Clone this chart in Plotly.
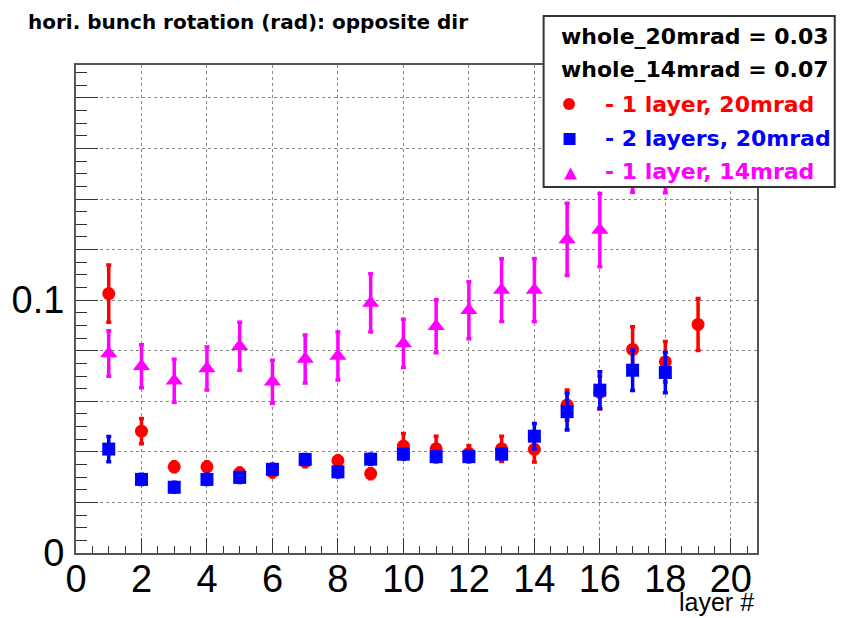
import plotly.graph_objects as go

# ---------------- data ----------------
x_red = list(range(1, 20))
y_red = [0.1026, 0.0482, 0.0341, 0.0341, 0.0316, 0.0321, 0.0361, 0.0365, 0.0314, 0.0423,
         0.0412, 0.0394, 0.0412, 0.0410, 0.0585, 0.0635, 0.0805, 0.0756, 0.0904]
e_red = [0.0113, 0.0050, 0.0020, 0.0020, 0.0020, 0.0020, 0.0020, 0.0020, 0.0020, 0.0050,
         0.0050, 0.0030, 0.0050, 0.0050, 0.0060, 0.0065, 0.0090, 0.0080, 0.0103]

x_blue = list(range(1, 19))
y_blue = [0.0411, 0.0291, 0.0260, 0.0291, 0.0299, 0.0331, 0.0370, 0.0321, 0.0371, 0.0391,
          0.0381, 0.0381, 0.0391, 0.0462, 0.0559, 0.0644, 0.0723, 0.0714]
e_blue = [0.0050, 0.0020, 0.0020, 0.0020, 0.0020, 0.0020, 0.0020, 0.0020, 0.0020, 0.0020,
          0.0020, 0.0020, 0.0020, 0.0050, 0.0073, 0.0073, 0.0080, 0.0080]

x_mag = list(range(1, 19))
y_mag = [0.0789, 0.0739, 0.0681, 0.0730, 0.0818, 0.0677, 0.0767, 0.0779, 0.0989, 0.0829,
         0.0897, 0.0960, 0.1040, 0.1040, 0.1240, 0.1277, 0.1600, 0.1595]
e_mag = [0.0090, 0.0085, 0.0085, 0.0085, 0.0095, 0.0085, 0.0095, 0.0095, 0.0115, 0.0095,
         0.0105, 0.0113, 0.0124, 0.0124, 0.0143, 0.0145, 0.0173, 0.0170]

title_text = "hori. bunch rotation (rad): opposite dir"
legend_lines = ["whole_20mrad = 0.03", "whole_14mrad = 0.07",
                "- 1 layer, 20mrad", "- 2 layers, 20mrad", "- 1 layer, 14mrad"]
x_title = "layer #"
x_ticks = list(range(0, 21, 2))
y_ticks = [0.0, 0.02, 0.04, 0.06, 0.08, 0.10, 0.12, 0.14, 0.16, 0.18]
y_ticktext = ["0", "", "", "", "", "0.1", "", "", "", ""]

RED, BLUE, MAG = "#ff0000", "#0000ff", "#ff00ff"

# ---------------- layout geometry ----------------
W, H = 846, 618
L, R, T, B = 74, 89, 65, 65
PW, PH = W - L - R, H - T - B


def px(xp):
    return (xp - L) / PW


def py(yp):
    return (H - B - yp) / PH


fig = go.Figure()


def add_series(xs, ys, es, color, symbol, size):
    fig.add_trace(go.Scatter(
        x=xs, y=ys, mode="markers",
        marker=dict(color=color, symbol=symbol, size=size, line=dict(width=0)),
        error_y=dict(type="data", array=es, visible=True, color=color,
                     thickness=3.5, width=2.5),
        showlegend=False, cliponaxis=True))


add_series(x_red, y_red, e_red, RED, "circle", 13)
add_series(x_blue, y_blue, e_blue, BLUE, "square", 13)
add_series(x_mag, y_mag, e_mag, MAG, "triangle-up", 15)

axis_font = dict(family="Liberation Sans, Arial, sans-serif", size=38, color="black")

fig.update_xaxes(
    range=[0, 20.8], tickmode="array", tickvals=x_ticks,
    ticks="inside", ticklen=15, tickwidth=1, tickcolor="#333",
    tickfont=axis_font, ticklabelstandoff=-9,
    showgrid=True, gridcolor="#888", griddash="dot", gridwidth=1,
    showline=True, linecolor="#555", linewidth=2, mirror=True,
    zeroline=False,
    minor=dict(dtick=0.5, tick0=0, ticks="inside", ticklen=7, tickcolor="#333",
               tickwidth=1, showgrid=False),
)
fig.update_yaxes(
    range=[0, 0.193], tickmode="array", tickvals=y_ticks, ticktext=y_ticktext,
    ticks="inside", ticklen=22, tickwidth=1, tickcolor="#333",
    tickfont=axis_font, ticklabelstandoff=2,
    showgrid=True, gridcolor="#888", griddash="dot", gridwidth=1,
    showline=True, linecolor="#555", linewidth=2, mirror=True,
    zeroline=False,
    minor=dict(dtick=0.005, tick0=0, ticks="inside", ticklen=11, tickcolor="#333",
               tickwidth=1, showgrid=False),
)

shapes = []
annotations = []

# legend box
shapes.append(dict(type="rect", xref="paper", yref="paper",
                   x0=px(543), x1=px(835), y0=py(187), y1=py(16),
                   fillcolor="white", line=dict(color="#333", width=2), layer="above"))

leg_font = dict(family="DejaVu Sans, sans-serif", size=22, weight="bold")
leg_rows = [
    (legend_lines[0], "black", 558, 36),
    (legend_lines[1], "black", 558, 69.5),
    (legend_lines[2], RED, 603, 104.5),
    (legend_lines[3], BLUE, 603, 138),
    (legend_lines[4], MAG, 603, 171.5),
]
for txt, col, xl, yc in leg_rows:
    annotations.append(dict(text=txt, xref="paper", yref="paper", x=px(xl), y=py(yc),
                            xanchor="left", yanchor="middle", showarrow=False,
                            font=dict(color=col, **leg_font)))

# legend symbols
r = 6
shapes.append(dict(type="circle", xref="paper", yref="paper",
                   x0=px(568.5 - r), x1=px(568.5 + r), y0=py(104 + r), y1=py(104 - r),
                   fillcolor=RED, line=dict(width=0), layer="above"))
shapes.append(dict(type="rect", xref="paper", yref="paper",
                   x0=px(569 - 6), x1=px(569 + 6), y0=py(139 + 6), y1=py(139 - 6),
                   fillcolor=BLUE, line=dict(width=0), layer="above"))
tx, ty = 570, 174
path = "M {:.5f},{:.5f} L {:.5f},{:.5f} L {:.5f},{:.5f} Z".format(
    px(tx - 6.5), py(ty + 5.5), px(tx + 6.5), py(ty + 5.5), px(tx), py(ty - 6.5))
shapes.append(dict(type="path", xref="paper", yref="paper", path=path,
                   fillcolor=MAG, line=dict(width=0), layer="above"))

# x axis title
annotations.append(dict(text=x_title, xref="paper", yref="paper", x=px(756), y=py(602),
                        xanchor="right", yanchor="middle", showarrow=False,
                        font=dict(family="Liberation Sans, Arial, sans-serif", size=25,
                                  color="black")))

fig.update_layout(
    width=W, height=H,
    margin=dict(l=L, r=R, t=T, b=B, pad=0),
    paper_bgcolor="white", plot_bgcolor="white",
    showlegend=False,
    title=dict(text=title_text, xref="container", yref="container",
               x=28 / W, y=1 - 22 / H, xanchor="left", yanchor="middle",
               font=dict(family="DejaVu Sans, sans-serif", size=20, weight="bold",
                         color="black")),
    shapes=shapes, annotations=annotations,
)

fig.write_html("out.html")
